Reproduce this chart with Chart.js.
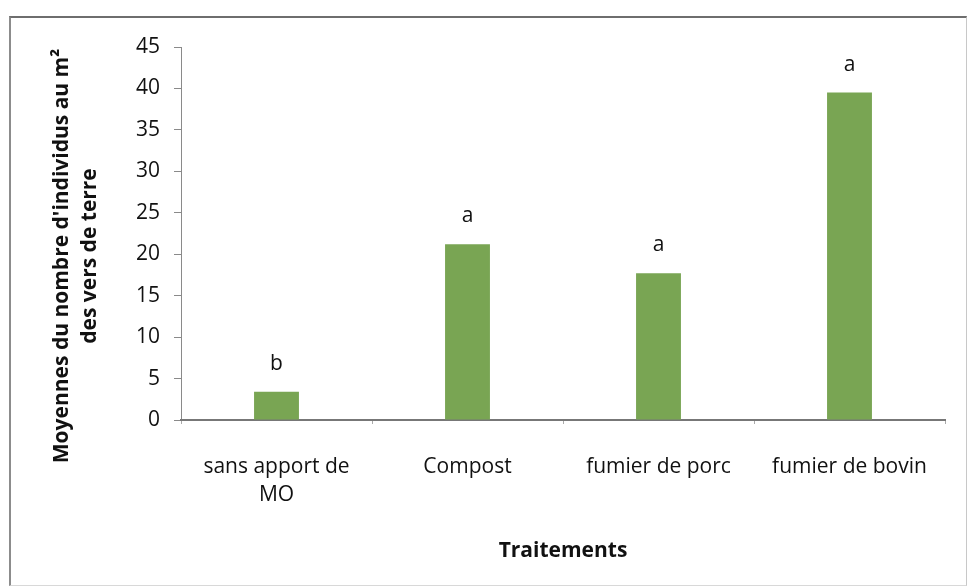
<!DOCTYPE html>
<html lang="fr">
<head>
<meta charset="utf-8">
<title>Vers de terre par traitement</title>
<script src="https://cdn.jsdelivr.net/npm/chart.js@4.4.1/dist/chart.umd.min.js"></script>
<style>
  html, body { margin: 0; padding: 0; background: #fff; }
  #cadre {
    position: absolute; left: 9px; top: 16px; width: 955px; height: 567px;
    border-top: 2px solid #6e6e6e; border-left: 2px solid #8c8c8c;
    border-right: 1px solid #c8c8c8; border-bottom: 1px solid #d8d8d8;
  }
  #graphe { position: absolute; left: 0; top: 0; }
</style>
</head>
<body>
<div id="cadre"></div>
<canvas id="graphe" width="968" height="588"></canvas>
<script>
// Données
const traitements = [['sans apport de', 'MO'], 'Compost', 'fumier de porc', 'fumier de bovin'];
const moyennes = [3.4, 21.2, 17.7, 39.5];
const lettres = ['b', 'a', 'a', 'a'];
const graduationsY = [0, 5, 10, 15, 20, 25, 30, 35, 40, 45];

const titreY = ["Moyennes du nombre d'individus au m²", 'des vers de terre'];
const titreX = 'Traitements';

const vert = '#79a553';
const gris = '#8a8a8a';
const police = '"Open Sans", "Liberation Sans", sans-serif';

// Plugin maison: lettres au-dessus des barres + titres des axes
const habillage = {
  id: 'habillage',
  afterDatasetsDraw(chart) {
    const ctx = chart.ctx;
    const area = chart.chartArea;
    ctx.save();
    ctx.fillStyle = '#111';
    ctx.textAlign = 'center';
    ctx.textBaseline = 'middle';

    // lettres de significativité
    ctx.font = '21px ' + police;
    chart.getDatasetMeta(0).data.forEach((barre, i) => {
      ctx.fillText(lettres[i], barre.x, barre.y - 28);
    });

    // titre axe X
    ctx.font = 'bold 21px ' + police;
    ctx.fillText(titreX, (area.left + area.right) / 2, 551);

    // titre axe Y (deux lignes, tourné)
    ctx.font = 'bold 21px ' + police;
    ctx.translate(62, 256);
    ctx.rotate(-Math.PI / 2);
    ctx.fillText(titreY[0], 0, 0);
    ctx.fillText(titreY[1], 0, 28);
    ctx.restore();
  }
};

new Chart(document.getElementById('graphe'), {
  type: 'bar',
  data: {
    labels: traitements,
    datasets: [{
      data: moyennes,
      backgroundColor: vert,
      borderWidth: 0,
      barPercentage: 0.235,
      categoryPercentage: 1
    }]
  },
  options: {
    responsive: false,
    animation: false,
    layout: { padding: { top: 47, right: 23, left: 10, bottom: 0 } },
    plugins: { legend: { display: false }, tooltip: { enabled: false } },
    scales: {
      y: {
        min: 0,
        max: 45,
        afterFit(scale) { scale.width = 171; },
        afterBuildTicks(scale) { scale.ticks = graduationsY.map(v => ({ value: v })); },
        border: { display: true, color: gris, width: 1 },
        grid: { drawOnChartArea: false, color: gris, tickLength: 7 },
        ticks: { color: '#111', padding: 14, font: { family: police, size: 21 } }
      },
      x: {
        afterFit(scale) { scale.height = 168; },
        border: { display: true, color: '#777', width: 2 },
        grid: { drawOnChartArea: false, offset: true, color: '#aaa', tickLength: 4 },
        ticks: { color: '#111', padding: 29, maxRotation: 0, autoSkip: false,
                 font: { family: police, size: 21, lineHeight: 1.33 } }
      }
    }
  },
  plugins: [habillage]
});
</script>
</body>
</html>
